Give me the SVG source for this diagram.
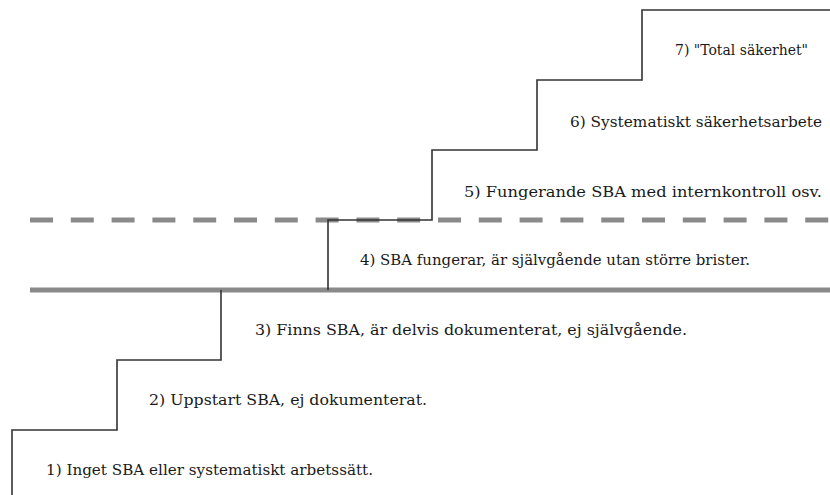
<svg xmlns="http://www.w3.org/2000/svg" width="830" height="495" viewBox="0 0 830 495">
<style>
.lbl{font-family:'DejaVu Serif','Liberation Serif','Times New Roman',serif;font-size:15px;fill:#1a1a1a}
.stair{fill:none;stroke:#333;stroke-width:1.6}
.solid{stroke:#8a8a8a;stroke-width:5}
.dash{stroke:#8a8a8a;stroke-width:5;stroke-dasharray:23 17.8}
</style>
<rect width="830" height="495" fill="#fff"/>
<g id="connectors">
<line class="solid" x1="30" y1="290" x2="830" y2="290"/>
<line class="dash" x1="30" y1="220" x2="830" y2="220"/>
<path class="stair" d="M12,495 V430 H117 V360 H221 V290 M328,290 V220 H432 V150 H537 V80 H642 V10 H830"/>
</g>
<g id="step1"><text class="lbl" x="46" y="475" textLength="327" lengthAdjust="spacingAndGlyphs">1) Inget SBA eller systematiskt arbetssätt.</text></g>
<g id="step2"><text class="lbl" x="149" y="405" textLength="278" lengthAdjust="spacingAndGlyphs">2) Uppstart SBA, ej dokumenterat.</text></g>
<g id="step3"><text class="lbl" x="255" y="335" textLength="432" lengthAdjust="spacingAndGlyphs">3) Finns SBA, är delvis dokumenterat, ej självgående.</text></g>
<g id="step4"><text class="lbl" x="360" y="265" textLength="390" lengthAdjust="spacingAndGlyphs">4) SBA fungerar, är självgående utan större brister.</text></g>
<g id="step5"><text class="lbl" x="464" y="197" textLength="358" lengthAdjust="spacingAndGlyphs">5) Fungerande SBA med internkontroll osv.</text></g>
<g id="step6"><text class="lbl" x="570" y="127" textLength="252" lengthAdjust="spacingAndGlyphs">6) Systematiskt säkerhetsarbete</text></g>
<g id="step7"><text class="lbl" x="675" y="55" textLength="133" lengthAdjust="spacingAndGlyphs">7) "Total säkerhet"</text></g>
</svg>
